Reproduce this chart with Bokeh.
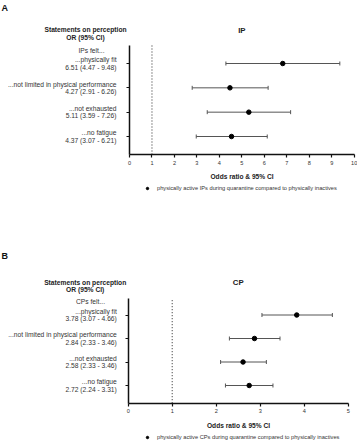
from bokeh.plotting import figure
from bokeh.models import (Range1d, FixedTicker, Whisker, ColumnDataSource, Label,
                          Legend, LegendItem, TeeHead, LinearAxis)
from bokeh.layouts import column
from bokeh.embed import file_html
from bokeh.resources import INLINE

# ---------------- data ----------------
statements = ["...physically fit", "...not limited in physical performance",
              "...not exhausted", "...no fatigue"]
rows = [4, 3, 2, 1]
ref_or = [1]

ip_labels = ["6.51 (4.47 - 9.48)", "4.27 (2.91 - 6.26)", "5.11 (3.59 - 7.26)", "4.37 (3.07 - 6.21)"]
ip_or = [6.82, 4.47, 5.31, 4.54]
ip_lo = [4.29, 2.79, 3.46, 2.97]
ip_hi = [9.36, 6.17, 7.17, 6.13]

cp_labels = ["3.78 (3.07 - 4.66)", "2.84 (2.33 - 3.46)", "2.58 (2.33 - 3.46)", "2.72 (2.24 - 3.31)"]
cp_or = [3.83, 2.87, 2.61, 2.75]
cp_lo = [3.04, 2.30, 2.10, 2.21]
cp_hi = [4.64, 3.45, 3.14, 3.29]

ip_ticks = [0, 1, 2, 3, 4, 5, 6, 7, 8, 9, 10]
cp_ticks = [0, 1, 2, 3, 4, 5]

FONT = "Liberation Sans"
TXT = "#333333"
W, H = 357, 220


def panel(letter, title, group, labels, orv, lo, hi, ticks, xmax, legend_text, lay):
    # pixel layout (figure-local, from top-left) -> data ranges
    x0_px, xm_px = lay["x0"], lay["xm"]
    ux = (xm_px - x0_px) / xmax
    top_px, bot_px = lay["row_top"], lay["row_bot"]
    uy = (bot_px - top_px) / 3.0
    xr = Range1d(-x0_px / ux, xmax + (W - xm_px) / ux)
    yr = Range1d(1 - (H - bot_px) / uy, 4 + top_px / uy)
    y_axis_lo = 1 - (lay["axis_px"] - bot_px) / uy
    y_axis_hi = 4 + (top_px - lay["ytop_px"]) / uy

    p = figure(width=W, height=H, output_backend="svg", toolbar_location=None,
               x_range=xr, y_range=yr, x_axis_location=None, y_axis_location=None,
               min_border=0, min_border_left=0, min_border_right=0,
               min_border_top=0, min_border_bottom=0)
    p.outline_line_color = None
    p.grid.visible = False

    xa = LinearAxis(fixed_location=y_axis_lo, bounds=(0, xmax),
                    ticker=FixedTicker(ticks=ticks))
    ya = LinearAxis(fixed_location=0, bounds=(y_axis_lo, y_axis_hi),
                    ticker=FixedTicker(ticks=rows))
    for ax in (xa, ya):
        ax.axis_line_width = 1.5
        ax.axis_line_color = "#111111"
        ax.major_tick_line_width = 1.2
        ax.major_tick_line_color = "#111111"
        ax.major_tick_in = 0
        ax.major_tick_out = 3
        ax.minor_tick_line_color = None
    ya.major_label_overrides = {k: "" for k in rows}
    ya.major_label_standoff = 0
    xa.major_label_text_font = FONT
    xa.major_label_text_font_size = "5.6px"
    xa.major_label_text_color = TXT
    xa.major_label_standoff = 3
    xa.axis_label = "Odds ratio & 95% CI"
    xa.axis_label_text_font = FONT
    xa.axis_label_text_font_style = "bold"
    xa.axis_label_text_font_size = "6.6px"
    xa.axis_label_text_color = "#222222"
    xa.axis_label_standoff = 5
    p.add_layout(xa, "below")
    p.add_layout(ya, "left")

    # reference line at OR = 1
    p.segment(x0=ref_or, y0=[y_axis_lo], x1=ref_or, y1=[y_axis_hi],
              line_color="#222222", line_width=1, line_dash="1 2")

    src = ColumnDataSource(dict(y=rows, orv=orv, lo=lo, hi=hi))
    p.add_layout(Whisker(source=src, base="y", lower="lo", upper="hi", dimension="width",
                         line_color="#555555", line_width=1,
                         lower_head=TeeHead(size=4, line_color="#555555", line_width=1),
                         upper_head=TeeHead(size=4, line_color="#555555", line_width=1)))
    r = p.scatter("orv", "y", source=src, size=4.5, color="black")

    lg = Legend(items=[LegendItem(label=legend_text, renderers=[r])],
                location=lay["legend_loc"], orientation="horizontal",
                glyph_width=6, glyph_height=6, label_height=6, label_width=10,
                label_standoff=7, padding=0, margin=0, spacing=0,
                label_text_font=FONT, label_text_font_size="5.7px", label_text_color=TXT,
                label_text_baseline="middle",
                border_line_color=None, background_fill_alpha=0)
    p.add_layout(lg)

    def lab(x, y, text, xo=0, yo=0, align="center", size="6.7px", bold=False, color=TXT):
        p.add_layout(Label(x=x, y=y, x_offset=xo, y_offset=yo, text=text,
                           text_align=align, text_baseline="middle", text_font=FONT,
                           text_font_size=size, text_color=color,
                           text_font_style="bold" if bold else "normal"))

    t = rows[0]
    o = lay["off"]
    lab(0, t, letter, xo=-x0_px + 1, yo=o["letter"], align="left", size="9px", bold=True,
        color="#111111")
    lab(0, t, "Statements on perception", xo=o["hx"], yo=o["h1"], bold=True, color="#222222")
    lab(0, t, "OR (95% CI)", xo=o["hx"], yo=o["h2"], bold=True, color="#222222")
    lab(0, t, group, xo=o["gx"], yo=o["g"])
    lab(xmax / 2, t, title, yo=o["title"], size="7.8px", bold=True, color="#222222")
    for s, l, y in zip(statements, labels, rows):
        lab(0, y, s, xo=o["rx"], yo=3.7, align="right")
        lab(0, y, l, xo=o["rx"], yo=-3.7, align="right")
    return p


lay_a = dict(x0=129.0, xm=353.7, row_top=63.0, row_bot=136.0, axis_px=154.0, ytop_px=45.0,
             legend_loc=(144.0, 29.0),
             off=dict(letter=56, h1=33.7, h2=26, hx=-44, g=13, gx=-38,
                      title=33, rx=-13))
lay_b = dict(x0=127.7, xm=347.7, row_top=94.5, row_bot=165.0, axis_px=182.7, ytop_px=78.0,
             legend_loc=(144.0, 0.5),
             off=dict(letter=59.5, h1=32.8, h2=25.8, hx=-43, g=13.5, gx=-37.7,
                      title=32.2, rx=-11.4))

pa = panel("A", "IP", "IPs felt...", ip_labels, ip_or, ip_lo, ip_hi, ip_ticks, 10,
           "physically active IPs during quarantine compared to physically inactives", lay_a)
pb = panel("B", "CP", "CPs felt...", cp_labels, cp_or, cp_lo, cp_hi, cp_ticks, 5,
           "physically active CPs during quarantine compared to physically inactives", lay_b)

layout = column(pa, pb)
open("out.html", "w").write(file_html(layout, INLINE))
